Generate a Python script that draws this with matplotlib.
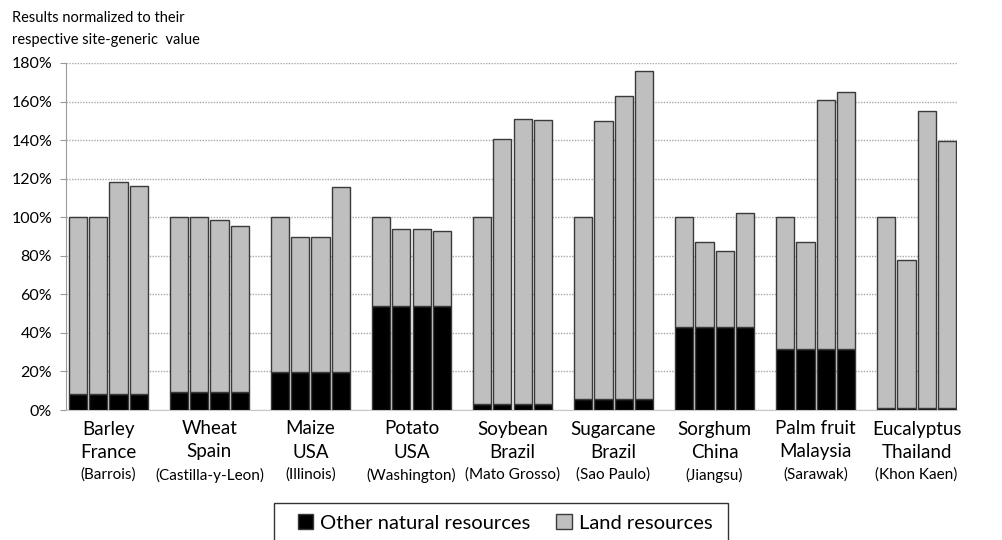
import matplotlib.pyplot as plt
import matplotlib.transforms as mtransforms
from matplotlib.patches import Patch, Rectangle

# crop / country / region labels
crops = ["Barley", "Wheat", "Maize", "Potato", "Soybean", "Sugarcane", "Sorghum", "Palm fruit", "Eucalyptus"]
countries = ["France", "Spain", "USA", "USA", "Brazil", "Brazil", "China", "Malaysia", "Thailand"]
regions = ["(Barrois)", "(Castilla-y-Leon)", "(Illinois)", "(Washington)", "(Mato Grosso)",
           "(Sao Paulo)", "(Jiangsu)", "(Sarawak)", "(Khon Kaen)"]

# other natural resources share (same for the 4 bars of one crop), in %
other = [8.1, 9.5, 19.6, 54.0, 3.1, 5.5, 42.8, 31.6, 1.2]

# total of each bar (other + land), in %
totals = [
    [100, 100, 118.2, 116.3],
    [100, 100, 98.6, 95.7],
    [100, 89.9, 89.9, 115.8],
    [100, 94.0, 94.0, 92.9],
    [100, 140.8, 150.9, 150.2],
    [100, 149.8, 162.8, 175.9],
    [100, 87.4, 82.4, 102.4],
    [100, 87.4, 160.9, 165.2],
    [100, 77.9, 155.2, 139.3],
]

yticks = [0, 20, 40, 60, 80, 100, 120, 140, 160, 180]

plt.rcParams['font.family'] = ['Lato', 'DejaVu Sans']

fig = plt.figure(figsize=(10.03, 5.40), dpi=100)
ax = fig.add_axes([66 / 1003, 130 / 540, (957 - 66) / 1003, (410 - 63) / 540])

edge = "#3a3a3a"
for i in range(len(crops)):
    for j in range(4):
        x = i * 5 + j
        land = totals[i][j] - other[i]
        ax.bar(x, other[i], width=0.9, color="black", edgecolor=edge, linewidth=1, zorder=3)
        ax.bar(x, land, bottom=other[i], width=0.9, color="#bfbfbf", edgecolor=edge, linewidth=1, zorder=3)

ax.set_xlim(-0.6, 43.5)
ax.set_ylim(0, 180)
ax.set_yticks(yticks)
ax.set_yticklabels([f"{v}%" for v in yticks], fontsize=11.5)
ax.set_xticks([])
ax.tick_params(axis="y", length=4, color="#9a9a9a", pad=6)
ax.yaxis.grid(True, linestyle=(0, (1, 1)), color="#a8a8a8", linewidth=1, zorder=0)
for s in ["top", "right"]:
    ax.spines[s].set_visible(False)
ax.spines["left"].set_color("#9a9a9a")
ax.spines["bottom"].set_color("#c8c8c8")

# three-line category labels
trans = mtransforms.blended_transform_factory(ax.transData, fig.transFigure)
for i in range(len(crops)):
    xc = i * 5 + 1.5
    ax.text(xc, 1 - 429 / 540, crops[i], transform=trans, ha="center", va="center", fontsize=13.5)
    ax.text(xc, 1 - 452 / 540, countries[i], transform=trans, ha="center", va="center", fontsize=13.5)
    ax.text(xc, 1 - 475 / 540, regions[i], transform=trans, ha="center", va="center", fontsize=11)

fig.text(12 / 1003, 1 - 18 / 540, "Results normalized to their", fontsize=10.5, va="center")
fig.text(12 / 1003, 1 - 40 / 540, "respective site-generic  value", fontsize=10.5, va="center")

handles = [Patch(facecolor="black", edgecolor=edge, label="Other natural resources"),
           Patch(facecolor="#bfbfbf", edgecolor=edge, label="Land resources")]
leg = fig.legend(handles=handles, ncol=2, loc="center", bbox_to_anchor=(505 / 1003, 1 - 523 / 540),
                 fontsize=14.5, frameon=False, handlelength=0.75, handleheight=0.75,
                 handletextpad=0.35, columnspacing=1.3)
# legend box (runs off the bottom edge like the reference)
fig.patches.append(Rectangle((274 / 1003, -0.02), (728 - 274) / 1003, (540 - 503) / 540 + 0.02,
                             transform=fig.transFigure, fill=False, edgecolor="#333333", linewidth=1))

fig.savefig("out.png", dpi=100)
